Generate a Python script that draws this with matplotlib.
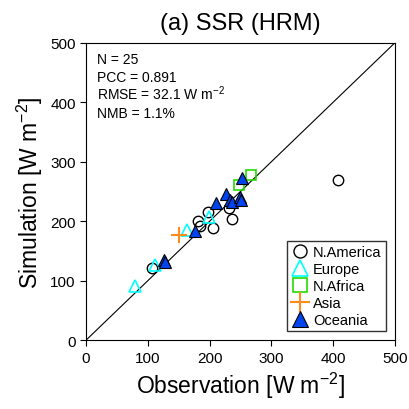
"""
Scatter of simulated vs observed SSR (HRM)
"""

import numpy as np
import matplotlib
matplotlib.use('Agg')
import matplotlib.pyplot as plt

plt.rcParams['font.family'] = ['Liberation Sans', 'DejaVu Sans']
plt.rcParams['mathtext.default'] = 'regular'

# Data (W m-2)
na_obs = [107, 181, 184, 197, 205, 231, 237, 408]
na_sim = [121, 201, 192, 216, 188, 223, 203, 270]
eu_obs = [79, 111, 163, 199]
eu_sim = [91, 126, 186, 207]
af_obs = [248, 267]
af_sim = [261, 278]
as_obs = [150]
as_sim = [176]
oc_obs = [126, 128, 177, 210, 226, 233, 237, 250, 251, 253]
oc_sim = [135, 131, 184, 231, 246, 236, 232, 240, 236, 272]

stats = ['N = 25', 'PCC = 0.891', 'RMSE = 32.1 W m$^{-2}$', 'NMB = 1.1%']

fig = plt.figure(figsize=(4.1, 4.1), dpi=100)
ax = fig.add_axes([0.21, 0.168, 0.753, 0.725])

ax.plot([0, 500], [0, 500], color='black', linewidth=0.8, zorder=1)

ax.plot(na_obs, na_sim, 'o', mfc='none', mec='black', ms=7.5, mew=1.0, label='N.America', zorder=3)
ax.plot(eu_obs, eu_sim, '^', mfc='none', mec='cyan', ms=9, mew=1.2, label='Europe', zorder=3)
ax.plot(af_obs, af_sim, 's', mfc='none', mec='#22dd00', ms=7.5, mew=1.2, label='N.Africa', zorder=3)
ax.plot(as_obs, as_sim, '+', color='#ff8c1a', ms=12, mew=1.5, label='Asia', zorder=3)
ax.plot(oc_obs, oc_sim, '^', mfc='#0044ee', mec='black', ms=9, mew=0.8, label='Oceania', zorder=4)

ax.set_xlim(0, 500)
ax.set_ylim(0, 500)
ax.set_xticks(np.arange(0, 501, 100))
ax.set_yticks(np.arange(0, 501, 100))
ax.tick_params(direction='out', length=4, labelsize=11)

ax.set_xlabel('Observation [W m$^{-2}$]', fontsize=16.5)
ax.set_ylabel('Simulation [W m$^{-2}$]', fontsize=16.5)
ax.set_title('(a) SSR (HRM)', fontsize=17, pad=10)

# stats lines, evenly spaced baselines
for i, line in enumerate(stats):
    ax.text(0.035, 0.933 - i * 0.0606, line, transform=ax.transAxes, fontsize=10,
            va='baseline', ha='left')

leg = ax.legend(loc='lower right', fontsize=10.5, frameon=True, fancybox=False,
                edgecolor='black', borderpad=0.3, handletextpad=0.3,
                labelspacing=0.2, handlelength=1.2, borderaxespad=0.6,
                markerscale=1.25)
leg.get_frame().set_linewidth(1.0)

fig.savefig('out.png', dpi=100)
plt.close()
